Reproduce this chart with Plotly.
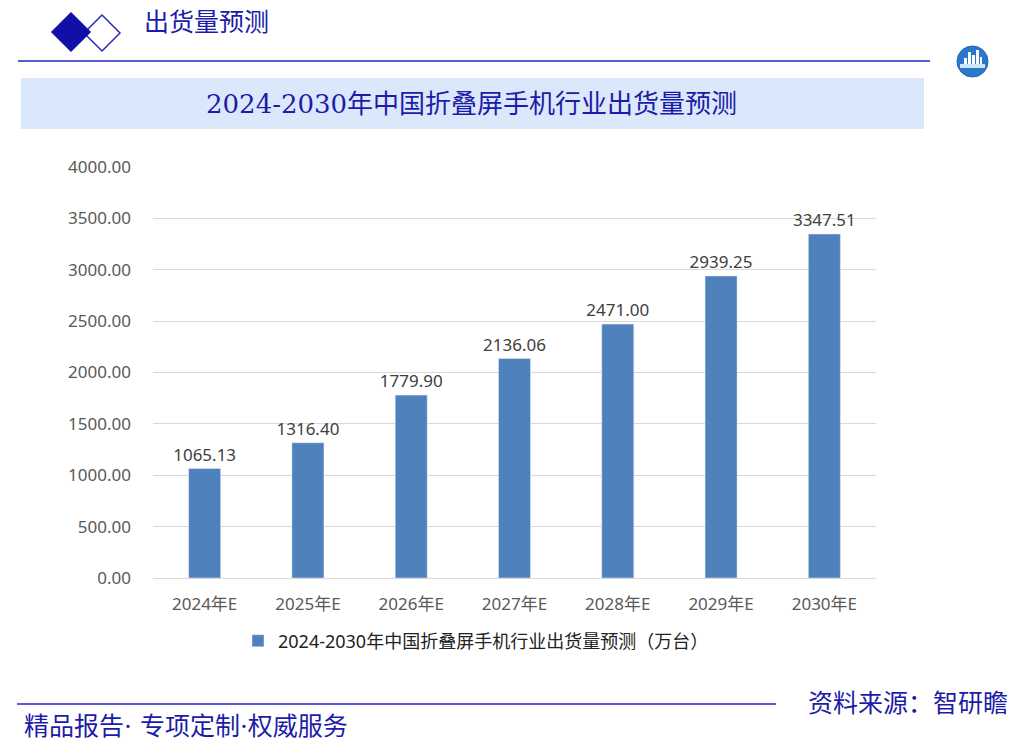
import plotly.graph_objects as go

categories = ["2024年E", "2025年E", "2026年E", "2027年E", "2028年E", "2029年E", "2030年E"]
shipments = [1065.13, 1316.40, 1779.90, 2136.06, 2471.00, 2939.25, 3347.51]
y_ticks = [0, 500, 1000, 1500, 2000, 2500, 3000, 3500, 4000]
series_name = "2024-2030年中国折叠屏手机行业出货量预测（万台）"
chart_title = "2024-2030年中国折叠屏手机行业出货量预测"
header_title = "出货量预测"
footer_left = "精品报告· 专项定制·权威服务"
footer_right = "资料来源：智研瞻"

W, H = 1013, 747
L, R, T, B = 153, 876, 167, 578

def px(x):
    return (x - L) / (R - L)

def py(y):
    return (B - y) / (B - T)

SERIF = "DejaVu Serif, Noto Sans CJK SC, serif"
SANS = "Noto Sans, Noto Sans CJK SC, sans-serif"
NAVY = "#1c1ca8"

fig = go.Figure()
fig.add_trace(go.Bar(
    x=categories, y=shipments, name=series_name,
    marker=dict(color="#4f81bd"),
    texttemplate="%{y:.2f}", textposition="outside", constraintext="none",
    textfont=dict(size=17, color="#404040", family=SANS),
    cliponaxis=False,
))

shapes = []
def diamond(cx, cy, h, fill, line):
    path = "M {} {} L {} {} L {} {} L {} {} Z".format(
        px(cx - h), py(cy), px(cx), py(cy - h), px(cx + h), py(cy), px(cx), py(cy + h))
    return dict(type="path", xref="paper", yref="paper", path=path,
                fillcolor=fill, line=dict(color=line, width=1.5))

shapes.append(diamond(102, 33, 18, "white", "#2a2ab8"))
shapes.append(diamond(71, 32, 19, "#1010a8", "#1010a8"))
shapes.append(dict(type="line", xref="paper", yref="paper", x0=px(18), x1=px(930), y0=py(61), y1=py(61),
                   line=dict(color="#5a5ad0", width=2)))
# logo
shapes.append(dict(type="circle", xref="paper", yref="paper", x0=px(957), x1=px(988), y0=py(46), y1=py(77),
                   fillcolor="#2878cc", line=dict(color="#1e64b4", width=1)))
for bx0, bx1, top in [(964, 967, 58), (968, 971, 52), (972, 975, 55), (976, 979, 50), (980, 982, 57)]:
    shapes.append(dict(type="rect", xref="paper", yref="paper", x0=px(bx0), x1=px(bx1), y0=py(top), y1=py(64),
                       fillcolor="white", line=dict(width=0)))
shapes.append(dict(type="rect", xref="paper", yref="paper", x0=px(960), x1=px(985), y0=py(64), y1=py(68),
                   fillcolor="#cfe6fb", line=dict(width=0)))
# title banner
shapes.append(dict(type="rect", xref="paper", yref="paper", x0=px(21), x1=px(924), y0=py(129), y1=py(78),
                   fillcolor="#dbe8fb", line=dict(width=0), layer="below"))
# footer line
shapes.append(dict(type="line", xref="paper", yref="paper", x0=px(17), x1=px(776), y0=py(704), y1=py(704),
                   line=dict(color="#5a5ad0", width=2)))

annotations = [
    dict(text=header_title, x=px(142), y=py(22), xanchor="left", yanchor="middle",
         font=dict(size=25, color=NAVY, family=SERIF)),
    dict(text=chart_title, x=px(471), y=py(104), xanchor="center", yanchor="middle",
         font=dict(size=26, color=NAVY, family=SERIF)),
    dict(text=footer_right, x=px(1010), y=py(703), xanchor="right", yanchor="middle",
         font=dict(size=25, color=NAVY, family=SERIF)),
    dict(text=footer_left, x=px(22), y=py(726), xanchor="left", yanchor="middle",
         font=dict(size=25, color=NAVY, family=SERIF)),
]
for a in annotations:
    a.update(xref="paper", yref="paper", showarrow=False)

fig.update_layout(
    width=W, height=H,
    margin=dict(l=L, r=W - R, t=T, b=H - B),
    paper_bgcolor="white", plot_bgcolor="white",
    bargap=0.69,
    shapes=shapes, annotations=annotations,
    showlegend=True,
    legend=dict(orientation="h", x=px(476), y=py(641), xanchor="center", yanchor="middle",
                font=dict(size=18, color="#222222", family=SANS), itemwidth=30,
                bgcolor="rgba(0,0,0,0)"),
    font=dict(family=SANS),
)
fig.update_yaxes(range=[0, 4000], tickvals=y_ticks, tickformat=".2f",
                 showgrid=True, gridcolor="#d9d9d9", gridwidth=1,
                 zeroline=True, zerolinecolor="#d9d9d9", zerolinewidth=1,
                 showline=False, ticks="", ticklen=0, ticklabelstandoff=21,
                 tickfont=dict(size=17, color="#595959", family=SANS))
fig.update_xaxes(showline=False, ticks="", ticklabelstandoff=14,
                 tickfont=dict(size=17, color="#595959", family=SANS))

fig.write_html("out.html")
